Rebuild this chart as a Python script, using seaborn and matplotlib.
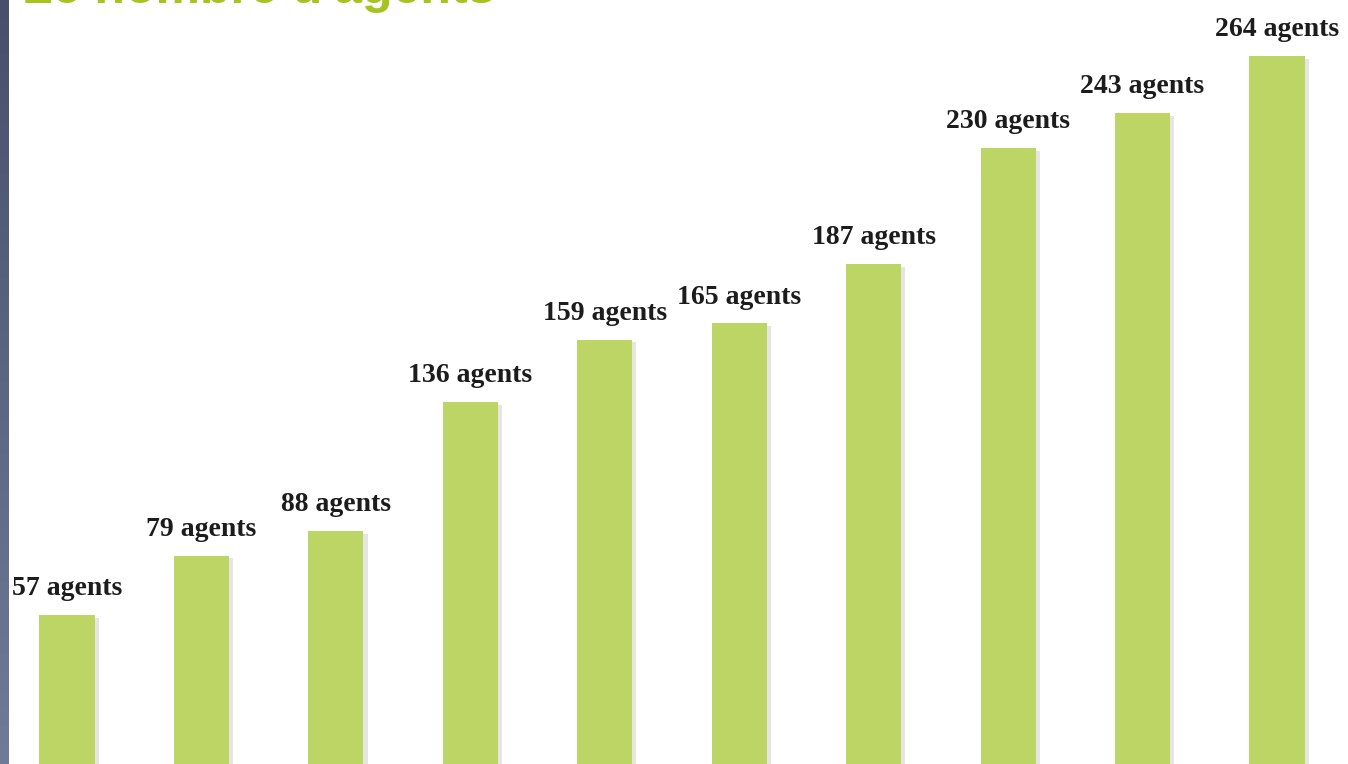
import numpy as np
import seaborn as sns
import matplotlib.pyplot as plt
import matplotlib.patheffects as pe
from matplotlib.colors import LinearSegmentedColormap

categories = ['1', '2', '3', '4', '5', '6', '7', '8', '9', '10']
agents = [57, 79, 88, 136, 159, 165, 187, 230, 243, 264]
labels = [f"{v} agents" for v in agents]
title = "Le nombre d'agents"

bar_color = '#bdd565'

fig = plt.figure(figsize=(13.48, 7.64), dpi=100)
fig.patch.set_facecolor('white')

ax = fig.add_axes([0, 0, 1, 1])
sns.barplot(x=categories, y=agents, color=bar_color, saturation=1, width=0.41, ax=ax)
for p in ax.patches:
    p.set_path_effects([pe.SimplePatchShadow(offset=(3, -2), shadow_rgbFace='#999999', alpha=0.25), pe.Normal()])

ax.bar_label(ax.containers[0], labels=labels, padding=10, fontsize=20, fontweight='bold',
             family='Liberation Serif', color='#1c1c1c')

ax.set_xlim(-0.498, 9.528)
ax.set_ylim(1.85, 284.8)
ax.axis('off')

# dark strip on the left edge
strip = fig.add_axes([0, 0, 9 / 1348, 1])
grad = np.linspace(0, 1, 256).reshape(-1, 1)
cmap = LinearSegmentedColormap.from_list('strip', ['#707c97', '#46506a'])
strip.imshow(grad, aspect='auto', cmap=cmap, origin='lower')
strip.axis('off')

# title, cut off by the top edge as in the slide
fig.text(22 / 1348, 1 - 3 / 764, title, fontsize=36, fontweight='bold', family='Liberation Sans',
         color='#a6c41e', va='baseline', ha='left')

fig.savefig('out.png', dpi=100)
